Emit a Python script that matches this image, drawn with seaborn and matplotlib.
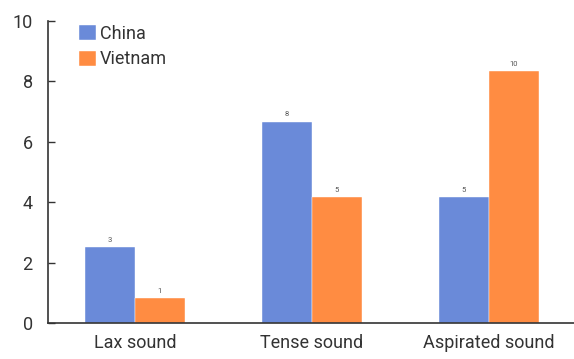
import matplotlib
matplotlib.use("Agg")
import matplotlib.pyplot as plt
from matplotlib import font_manager
import seaborn as sns
import pandas as pd

categories = ["Lax sound", "Tense sound", "Aspirated sound"]
groups = ["China", "Vietnam"]
china_counts = [3, 8, 5]
vietnam_counts = [1, 5, 10]
# counts are shown on a 0-10 scale where the full scale equals 12 responses
scale_max = 12
tick_labels = ["0", "2", "4", "6", "8", "10"]

colors = {"China": "#6a8ad9", "Vietnam": "#ff8c42"}

sns.set_theme(style="white")
names = {f.name for f in font_manager.fontManager.ttflist}
family = "Liberation Sans Narrow" if "Liberation Sans Narrow" in names else "Roboto"
plt.rcParams["font.family"] = [family, "DejaVu Sans"]

df = pd.DataFrame({
    "category": categories * 2,
    "group": ["China"] * 3 + ["Vietnam"] * 3,
    "count": china_counts + vietnam_counts,
})

fig = plt.figure(figsize=(5.74, 3.59), dpi=100)
ax = fig.add_axes([0.0836, 0.1003, 0.9164, 0.8412])

sns.barplot(data=df, x="category", y="count", hue="group", order=categories,
            hue_order=groups, palette=colors, width=0.565, saturation=1,
            edgecolor="white", linewidth=0.3, ax=ax)

for cont in ax.containers:
    ax.bar_label(cont, labels=[str(int(v)) for v in cont.datavalues],
                 fontsize=5.5, color="#555555", padding=3)

ax.set_ylim(0, scale_max)
ax.set_xlim(-0.4915, 2.48)
ax.set_yticks([scale_max * i / 10 for i in range(0, 11, 2)])
ax.set_yticklabels(tick_labels)
ax.set_xlabel("")
ax.set_ylabel("")
ax.tick_params(axis="y", direction="in", length=5, width=1, color="#333333",
               labelsize=13, labelcolor="#333333", pad=11, left=True)
ax.tick_params(axis="x", length=0, labelsize=13, labelcolor="#333333", pad=8)

for side in ["top", "right"]:
    ax.spines[side].set_visible(False)
for side in ["left", "bottom"]:
    ax.spines[side].set_color("#333333")
    ax.spines[side].set_linewidth(1.2)

leg = ax.legend(loc="upper left", bbox_to_anchor=(0.046, 1.01), frameon=False,
                fontsize=13, handlelength=0.9, handleheight=0.9,
                handletextpad=0.25, labelspacing=0.4, borderaxespad=0)
for t in leg.get_texts():
    t.set_color("#333333")

fig.savefig("out.png", dpi=100)
